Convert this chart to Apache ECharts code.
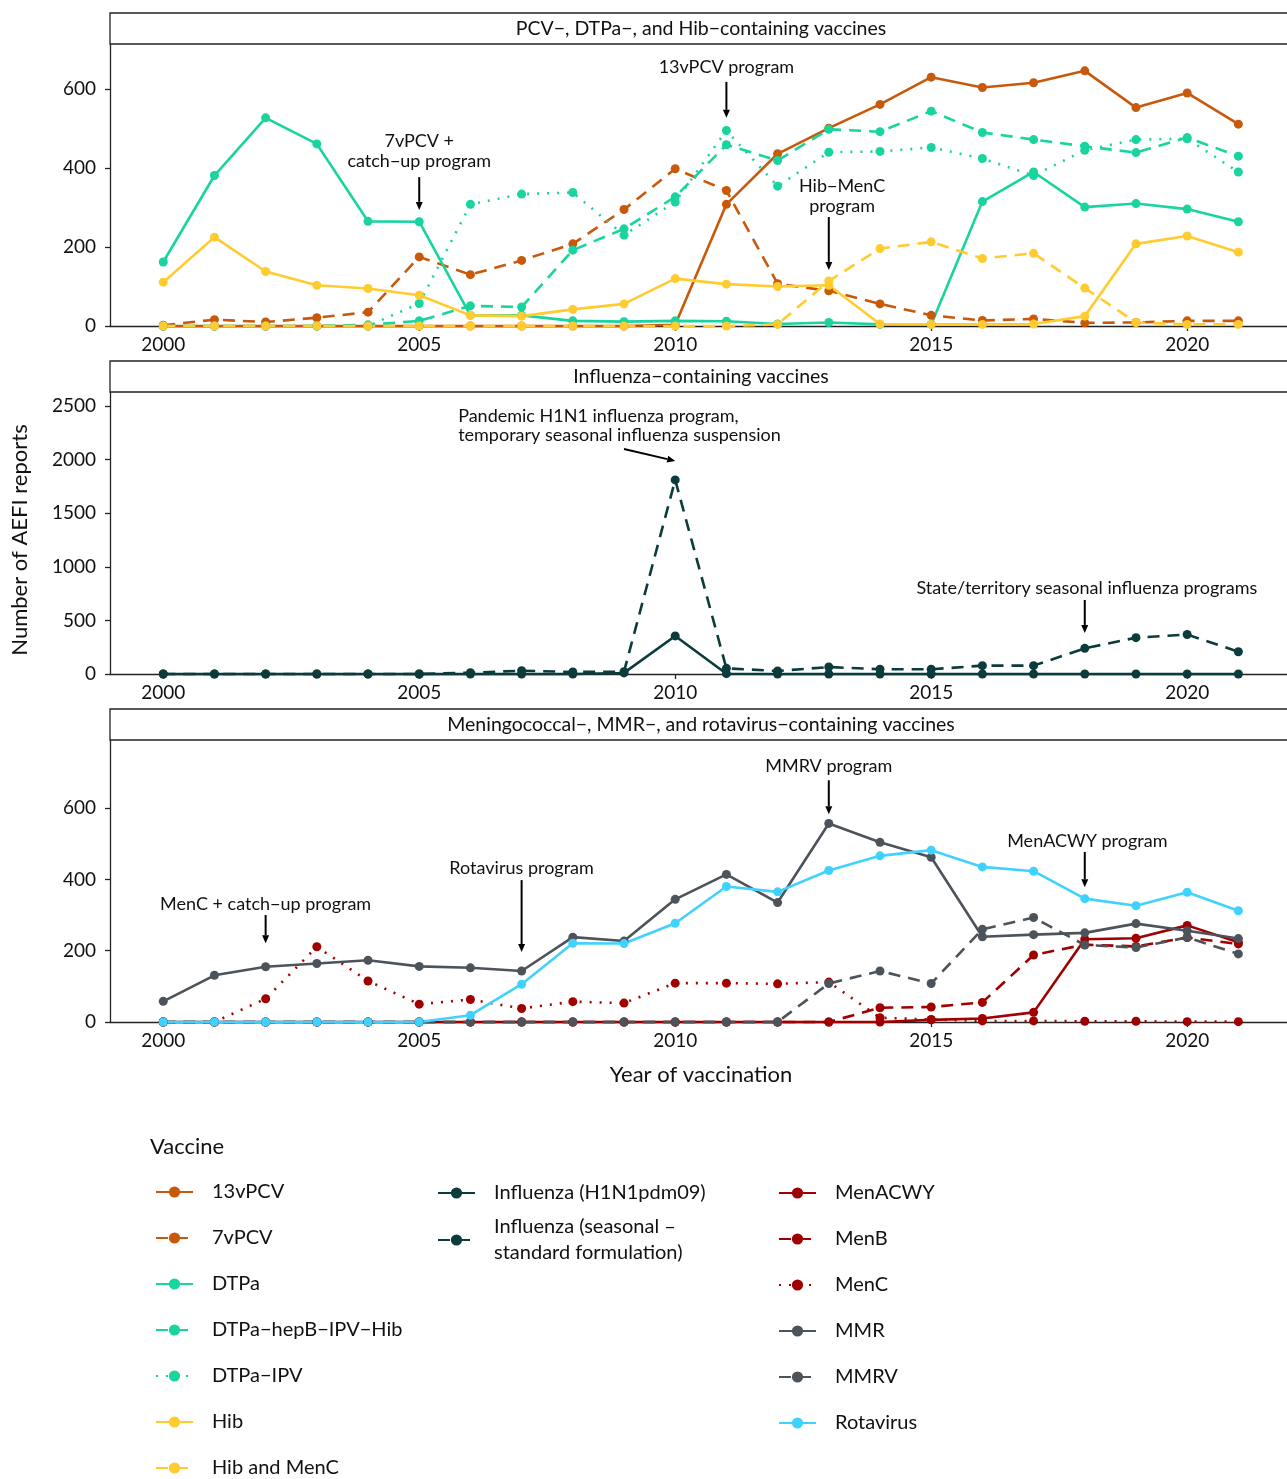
<!DOCTYPE html>
<html><head><meta charset="utf-8">
<script src="https://cdn.jsdelivr.net/npm/echarts@6/dist/echarts.min.js"></script>
<style>html,body{margin:0;padding:0;background:#fff}#c{width:1287px;height:1479px}</style>
</head><body><div id="c"></div><script>
// ---------- data ----------
const years = [2000,2001,2002,2003,2004,2005,2006,2007,2008,2009,2010,2011,2012,2013,2014,2015,2016,2017,2018,2019,2020,2021];
const xTickLabels = [2000,2005,2010,2015,2020];
const yTicks1 = [0,200,400,600];
const yTicks2 = [0,500,1000,1500,2000,2500];
const yTicks3 = [0,200,400,600];
// panel 1
const pcv13   = [0,0,0,0,0,0,0,0,0,0,3,308,436,501,561,630,604,616,646,553,590,511];
const pcv7    = [2,16,10,21,35,175,130,166,208,295,398,343,107,89,56,27,14,18,8,9,13,13];
const dtpa    = [162,381,527,461,265,264,27,27,13,11,13,12,5,9,4,4,315,390,301,310,296,264];
const dtpaHep = [0,0,0,0,3,13,51,48,192,246,327,459,419,498,492,544,490,472,455,439,477,430];
const dtpaIpv = [0,0,0,0,0,57,308,334,338,230,314,495,354,440,442,452,424,381,445,472,474,390];
const hib     = [111,225,138,103,95,78,27,25,42,56,120,106,100,103,5,4,4,5,25,208,228,187];
const hibMenC = [0,0,0,0,0,0,0,0,0,0,0,0,4,114,196,213,171,184,96,9,4,4];
// panel 2
const fluH1N1     = [0,0,0,0,0,0,0,0,0,10,355,3,0,0,0,0,0,0,0,0,0,0];
const fluSeasonal = [0,0,0,0,0,0,12,31,19,22,1810,53,28,65,44,44,78,78,239,339,368,208];
// panel 3
const menacwy = [0,0,0,0,0,0,0,0,0,0,0,0,0,0,0,6,10,27,232,235,271,224];
const menb    = [0,0,0,0,0,0,0,0,0,0,0,0,0,0,40,42,55,188,217,212,237,219];
const menc    = [0,0,65,211,115,50,63,38,57,53,109,109,107,112,12,7,3,3,2,2,1,1];
const mmr     = [58,131,155,164,173,156,152,143,238,227,344,414,335,557,504,462,239,245,250,276,256,234];
const mmrv    = [0,0,0,0,0,0,0,0,0,0,0,0,0,108,143,108,260,293,216,209,237,191];
const rota    = [0,0,0,0,0,0,19,106,221,220,277,380,365,425,466,482,435,423,346,326,364,312];

const panelTitles = ['PCV−, DTPa−, and Hib−containing vaccines','Influenza−containing vaccines','Meningococcal−, MMR−, and rotavirus−containing vaccines'];

// ---------- styles ----------
const FONT = 'Lato';
const C = {orange:'#C8590B', green:'#19D49F', yellow:'#FFCB2E', flu:'#0B3B3A', red:'#A00000', gray:'#4D535A', cyan:'#40D2FF'};
const DASH = [12,8], DOT = [2,8];

const seriesDefs = [
  {name:'13vPCV', d:pcv13, c:C.orange, t:'solid', g:0},
  {name:'7vPCV', d:pcv7, c:C.orange, t:DASH, g:0},
  {name:'DTPa', d:dtpa, c:C.green, t:'solid', g:0},
  {name:'DTPa−hepB−IPV−Hib', d:dtpaHep, c:C.green, t:DASH, g:0},
  {name:'DTPa−IPV', d:dtpaIpv, c:C.green, t:DOT, g:0},
  {name:'Hib', d:hib, c:C.yellow, t:'solid', g:0},
  {name:'Hib and MenC', d:hibMenC, c:C.yellow, t:DASH, g:0},
  {name:'Influenza (H1N1pdm09)', d:fluH1N1, c:C.flu, t:'solid', g:1},
  {name:'Influenza (seasonal –\nstandard formulation)', d:fluSeasonal, c:C.flu, t:DASH, g:1},
  {name:'MenACWY', d:menacwy, c:C.red, t:'solid', g:2},
  {name:'MenB', d:menb, c:C.red, t:DASH, g:2},
  {name:'MenC', d:menc, c:C.red, t:DOT, g:2},
  {name:'MMR', d:mmr, c:C.gray, t:'solid', g:2},
  {name:'MMRV', d:mmrv, c:C.gray, t:DASH, g:2},
  {name:'Rotavirus', d:rota, c:C.cyan, t:'solid', g:2},
];

const grids = [
  {left:110, top:44, right:0, height:282},
  {left:110, top:392, right:0, height:282},
  {left:110, top:740, right:0, height:282},
];
const yMax = [714, 2630, 791];
const yTicks = [yTicks1, yTicks2, yTicks3];
const plain = v => String(v);

const xAxes = grids.map((g,i)=>({
  type:'value', gridIndex:i, min:1998.96, max:2021.95,
  axisLine:{show:true, lineStyle:{color:'#222', width:1.3}},
  axisTick:{show:true, length:5, customValues:xTickLabels, lineStyle:{color:'#222', width:1.3}},
  axisLabel:{customValues:xTickLabels, formatter:plain, fontFamily:FONT, fontSize:19, color:'#111', margin:9},
  splitLine:{show:false}
}));
const yAxes = grids.map((g,i)=>({
  type:'value', gridIndex:i, min:0, max:yMax[i],
  axisLine:{show:true, lineStyle:{color:'#222', width:1.3}},
  axisTick:{show:true, length:5, customValues:yTicks[i], lineStyle:{color:'#222', width:1.3}},
  axisLabel:{customValues:yTicks[i], formatter:plain, fontFamily:FONT, fontSize:19, color:'#111', margin:14},
  splitLine:{show:false}
}));

const series = seriesDefs.map(s=>({
  name:s.name, type:'line', xAxisIndex:s.g, yAxisIndex:s.g,
  data: years.map((y,k)=>[y, s.d[k]]),
  symbol:'circle', symbolSize:9, clip:false,
  lineStyle:{color:s.c, width:2.6, type:s.t},
  itemStyle:{color:s.c},
  emphasis:{disabled:true}, animation:false
}));

const legendText = {fontFamily:FONT, fontSize:20, color:'#111', lineHeight:22, padding:[0,0,0,14]};
const legBase = {orient:'vertical', itemWidth:37, itemHeight:14, itemGap:24, padding:0, selectedMode:false, textStyle:legendText};
const legends = [
  Object.assign({}, legBase, {left:155, top:1181, data:seriesDefs.slice(0,7).map(s=>s.name)}),
  Object.assign({}, legBase, {left:437, top:1182, data:[seriesDefs[7].name]}),
  Object.assign({}, legBase, {left:437, top:1214, data:[seriesDefs[8].name], textStyle:Object.assign({}, legendText, {lineHeight:26})}),
  Object.assign({}, legBase, {left:778, top:1182, data:seriesDefs.slice(9).map(s=>s.name)}),
];

const chart = echarts.init(document.getElementById('c'));
chart.setOption({
  backgroundColor:'#fff', animation:false,
  grid:grids, xAxis:xAxes, yAxis:yAxes, series:series, legend:legends
});

// ---------- annotations ----------
const notes = [
  {g:0, x:2011, y:656, text:'13vPCV program', arrow:[[2011,618],[2011,527]]},
  {g:0, x:2005, y:442, text:'7vPCV +\ncatch−up program', arrow:[[2005,377],[2005,294]]},
  {g:0, x:2013.26, y:329, text:'Hib−MenC\nprogram', arrow:[[2013,276],[2013,142]]},
  {g:1, x:2005.76, y:2318, text:'Pandemic H1N1 influenza program,\ntemporary seasonal influenza suspension', align:'left', arrow:[[2009.0,2099],[2010,1987]]},
  {g:1, x:2018.04, y:802, text:'State/territory seasonal influenza programs', arrow:[[2018,690],[2018,382]]},
  {g:2, x:2002, y:331, text:'MenC + catch−up program', arrow:[[2002,300],[2002,221]]},
  {g:2, x:2007, y:432, text:'Rotavirus program', arrow:[[2007,398],[2007,196]]},
  {g:2, x:2013, y:718, text:'MMRV program', arrow:[[2013,678],[2013,583]]},
  {g:2, x:2018.05, y:507, text:'MenACWY program', arrow:[[2018,477],[2018,378]]},
];
const gfx = [];
grids.forEach((g,i)=>{
  gfx.push({type:'rect', shape:{x:110, y:g.top-31, width:1200, height:31}, style:{fill:'#fff', stroke:'#222', lineWidth:1.3}, z:10});
  gfx.push({type:'text', x:701, y:g.top-15.5, style:{text:panelTitles[i], fontFamily:FONT, fontSize:19.5, fill:'#111', align:'center', verticalAlign:'middle'}, z:11});
});
notes.forEach(n=>{
  const p = chart.convertToPixel({xAxisIndex:n.g, yAxisIndex:n.g}, [n.x, n.y]);
  gfx.push({type:'text', x:p[0], y:p[1], style:{text:n.text, fontFamily:FONT, fontSize:18, lineHeight:19.5, fill:'#111', align:n.align||'center', verticalAlign:'middle'}, z:20});
  const a = chart.convertToPixel({xAxisIndex:n.g, yAxisIndex:n.g}, n.arrow[0]);
  const b = chart.convertToPixel({xAxisIndex:n.g, yAxisIndex:n.g}, n.arrow[1]);
  const dx=b[0]-a[0], dy=b[1]-a[1], L=Math.hypot(dx,dy), ux=dx/L, uy=dy/L;
  const hl=8, hw=3.5;
  const bx=b[0]-ux*hl, by=b[1]-uy*hl;
  gfx.push({type:'line', shape:{x1:a[0], y1:a[1], x2:bx, y2:by}, style:{stroke:'#000', lineWidth:2}, z:20});
  gfx.push({type:'polygon', shape:{points:[[b[0],b[1]],[bx-uy*hw,by+ux*hw],[bx+uy*hw,by-ux*hw]]}, style:{fill:'#000'}, z:20});
});
gfx.push({type:'text', x:20, y:540, rotation:Math.PI/2, style:{text:'Number of AEFI reports', fontFamily:FONT, fontSize:22, fill:'#111', align:'center', verticalAlign:'middle'}});
gfx.push({type:'text', x:701, y:1075, style:{text:'Year of vaccination', fontFamily:FONT, fontSize:22, fill:'#111', align:'center', verticalAlign:'middle'}});
gfx.push({type:'text', x:150, y:1147, style:{text:'Vaccine', fontFamily:FONT, fontSize:22, fill:'#111', align:'left', verticalAlign:'middle'}});
chart.setOption({graphic:gfx});
</script></body></html>
